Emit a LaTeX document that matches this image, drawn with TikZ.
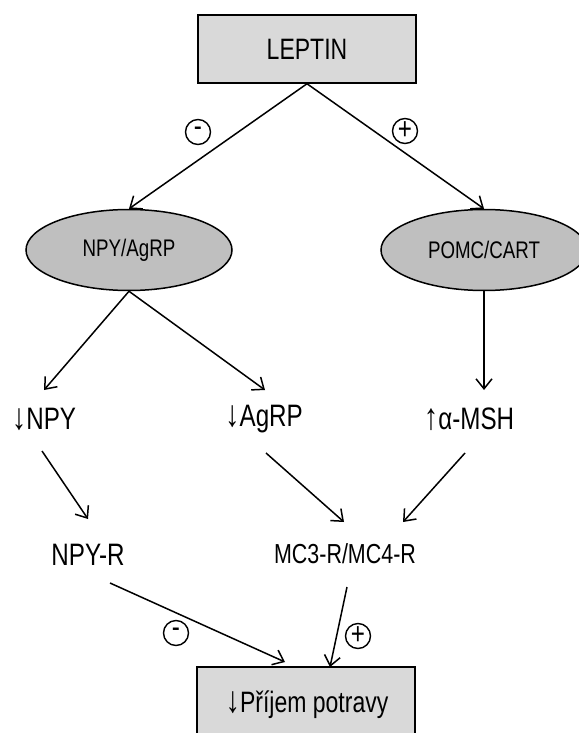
\documentclass[tikz,border=0pt]{standalone}
\usepackage{fontspec}
\setmainfont{Liberation Sans}[FakeStretch=0.78]
\usetikzlibrary{arrows.meta,shapes.geometric}
\newcommand{\bigtxt}{\fontsize{31}{36}\selectfont}
\newcommand{\boxtxt}{\fontsize{29.5}{34}\selectfont}
\newcommand{\midtxt}{\fontsize{27.5}{32}\selectfont}
\newcommand{\smalltxt}{\fontsize{24}{27}\selectfont}
\newcommand{\signtxt}{\fontsize{31}{32}\selectfont}
\newcommand{\dnarr}{{\fontsize{37}{37}\selectfont↓}}
\newcommand{\uparr}{{\fontsize{37}{37}\selectfont↑}}
\begin{document}
\begin{tikzpicture}[x=1pt,y=-1pt,line width=1.5pt,
  greybox/.style={draw,fill=black!15,minimum width=218,minimum height=68,inner sep=0,font=\boxtxt},
  greyoval/.style={ellipse,draw,fill=black!25,minimum width=206,minimum height=81,inner sep=0,font=\smalltxt},
  sign/.style={circle,draw,line width=1.4pt,minimum size=25,inner sep=0,font=\signtxt},
  arr/.style={-{Straight Barb[length=10pt,width=16pt,line width=1.5pt]}}]
\useasboundingbox (0,0) rectangle (578,733);
\node[greybox] (leptin) at (307,49) {LEPTIN};
\node[greyoval] (npyagrp) at (129,250) {NPY/AgRP};
\node[greyoval] (pomc) at (484,250) {POMC/CART};
\node[font=\bigtxt] (npy) at (44,419) {\dnarr NPY};
\node[font=\bigtxt] (agrp) at (264,419) {\dnarr AgRP};
\node[font=\bigtxt] (msh) at (469,419) {\uparr α-MSH};
\node[font=\bigtxt] (npyr) at (88,555) {NPY-R};
\node[font=\midtxt] (mcr) at (345,554) {MC3-R/MC4-R};
\node[greybox,minimum height=80] (prijem) at (306,707) {};
\node[font=\boxtxt] (prijemtxt) at (307,705) {\dnarr Příjem potravy};
\node[sign] (minus1) at (198,132) {\raisebox{1pt}{-}};
\node[sign] (plus1) at (405,131) {\raisebox{1pt}{+}};
\node[sign] (minus2) at (176,633) {\raisebox{1pt}{-}};
\node[sign] (plus2) at (358,636) {\raisebox{1pt}{+}};
\coordinate (npyin) at (44,390);
\coordinate (agrpin) at (265,390);
\coordinate (mshin) at (484,390);
\coordinate (npyout) at (42,451);
\coordinate (agrpout) at (266,453);
\coordinate (mshout) at (465,453);
\coordinate (npyrin) at (88,519);
\coordinate (mcrin1) at (344,522);
\coordinate (mcrin2) at (403,522);
\coordinate (npyrout) at (110,583);
\coordinate (mcrout) at (347,587);
\coordinate (prijemin1) at (285,662);
\coordinate (prijemin2) at (330,667);
\draw[arr] (leptin.south) -- (npyagrp.north);
\draw[arr] (leptin.south) -- (pomc.north);
\draw[arr] (npyagrp.south) -- (npyin);
\draw[arr] (npyagrp.south) -- (agrpin);
\draw[arr] (pomc.south) -- (mshin);
\draw[arr] (npyout) -- (npyrin);
\draw[arr] (agrpout) -- (mcrin1);
\draw[arr] (mshout) -- (mcrin2);
\draw[arr] (npyrout) -- (prijemin1);
\draw[arr] (mcrout) -- (prijemin2);
\end{tikzpicture}
\end{document}
